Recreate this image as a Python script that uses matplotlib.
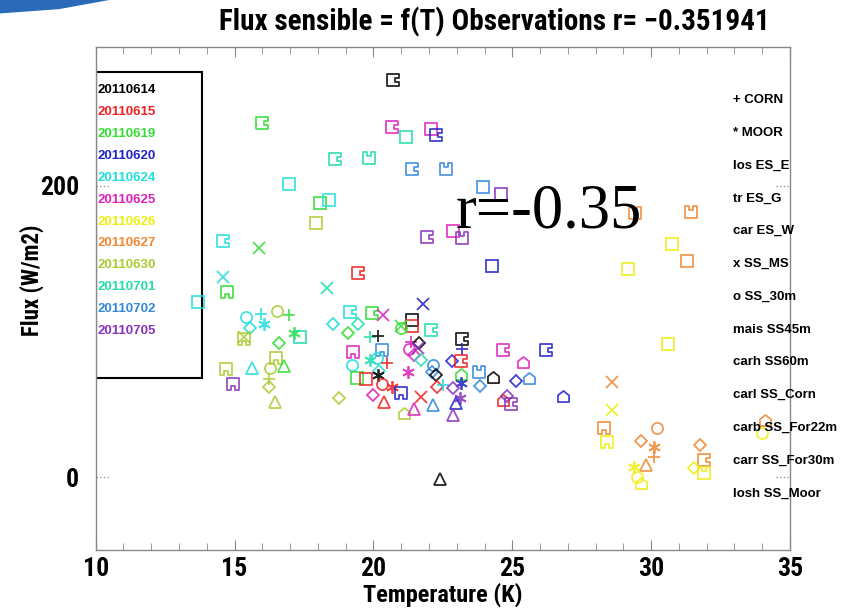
import numpy as np
import matplotlib
matplotlib.use("Agg")
import matplotlib.pyplot as plt
from matplotlib.path import Path
from matplotlib.patches import Rectangle, Polygon
import matplotlib.transforms as mtransforms
from matplotlib import font_manager

# dates (colour legend) and site labels (marker legend)
dates = ["20110614", "20110615", "20110619", "20110620", "20110624", "20110625",
         "20110626", "20110627", "20110630", "20110701", "20110702", "20110705"]
site_labels = ["+ CORN", "* MOOR", "los ES_E", "tr ES_G", "car ES_W", "x SS_MS",
               "o SS_30m", "mais SS45m", "carh SS60m", "carl SS_Corn",
               "carb SS_For22m", "carr SS_For30m", "losh SS_Moor"]

# observations: temperature (K), sensible flux (W/m2), date index, site index
obs_temp = [20.69, 15.98, 20.66, 21.17, 22.07, 22.24, 18.61, 19.83, 21.38, 22.6,
            16.95, 18.07, 18.4, 17.93, 14.58, 15.88, 21.92, 22.88, 23.2, 19.44,
            14.58, 14.73, 18.32, 13.7, 23.95, 24.6, 24.26, 29.4, 31.45, 30.76,
            31.3, 29.15, 30.6,
            15.4, 15.95, 16.53, 16.95, 15.55, 16.05, 15.33, 15.33, 17.15, 17.35,
            16.6, 16.48, 14.68, 15.63, 16.77, 16.27, 14.93, 16.24, 16.24, 16.45,
            18.75, 18.54, 19.08, 19.44, 19.15, 19.94, 20.34, 19.87, 20.15, 19.25,
            20.3, 19.87, 19.22, 20.12, 20.2, 20.15, 20.5, 19.4, 19.73, 20.3,
            20.0, 20.37,
            21.77, 21.38, 21.4, 21.0, 21.0, 22.06, 23.2, 23.2, 21.35, 21.63,
            21.27, 21.6, 21.45, 21.7, 22.83, 23.17, 24.65, 26.23, 25.37, 22.14,
            22.1, 22.25, 23.14, 23.8, 24.3, 25.15, 25.6, 23.83, 23.17, 21.24,
            20.66, 21.0, 21.7, 22.3, 22.5, 22.87, 23.1, 22.97, 24.65, 24.8,
            24.97, 26.82, 21.1, 21.45, 22.14, 22.87, 22.38,
            28.6, 28.6, 28.3, 28.4, 30.2, 29.65, 30.1, 30.1, 29.8, 29.37,
            29.5, 29.65, 31.77, 31.9, 31.55, 31.9, 34.1, 33.98]
obs_flux = [272.6, 243, 240, 233.6, 239, 235, 218.5, 219, 211.6, 211.6,
            201, 188, 190, 174, 162, 157.5, 165, 168.5, 163.7, 139.7,
            137, 127, 129.5, 120, 199, 194.5, 144.5, 181, 182, 159.6,
            148, 142.5, 91,
            109.6, 112, 113.7, 111, 102, 104.8, 95, 96, 99, 96,
            91.8, 82, 74, 75, 76, 74.7, 63.7, 67, 61.6, 51.4,
            54, 105, 99, 104.8, 113, 112.3, 111, 96, 97, 85.6,
            87, 80, 77, 81.5, 73, 70, 78, 67.7, 67, 63.7,
            56, 51.4,
            119, 108, 103.4, 104, 102, 100.7, 94.5, 87.7, 92.5, 91.8,
            87.7, 88.4, 83.6, 80, 79.5, 79.5, 87, 87, 79, 77,
            72, 70, 71, 72, 68.5, 66, 67.8, 62.3, 64.4, 72,
            61.6, 58, 54.8, 61.6, 63, 61, 54, 50.7, 52.7, 55.5,
            50, 55.5, 44, 47, 49.3, 42.5, -1.4,
            65, 46, 34, 24, 33.5, 25, 21, 13.7, 8, 7,
            0, -4, 22, 12, 6, 3, 39, 30]
obs_date = [0, 2, 5, 9, 5, 3, 9, 9, 10, 10,
            4, 2, 4, 8, 4, 2, 11, 5, 11, 1,
            4, 2, 9, 4, 10, 11, 3, 7, 7, 6,
            7, 6, 6,
            4, 4, 8, 2, 4, 4, 8, 8, 2, 9,
            2, 8, 8, 4, 2, 8, 11, 8, 8, 8,
            8, 4, 2, 9, 4, 2, 5, 9, 0, 5,
            10, 9, 4, 4, 4, 0, 1, 2, 1, 1,
            5, 1,
            3, 0, 1, 2, 2, 9, 0, 3, 5, 0,
            5, 11, 5, 9, 3, 1, 5, 3, 5, 10,
            10, 0, 2, 10, 0, 3, 10, 10, 3, 5,
            1, 3, 1, 1, 4, 11, 11, 3, 1, 11,
            11, 3, 8, 5, 10, 11, 0,
            7, 6, 7, 6, 7, 7, 7, 7, 7, 6,
            6, 6, 7, 7, 6, 6, 7, 6]
obs_site = [11, 11, 11, 4, 4, 11, 11, 8, 11, 8,
            4, 4, 4, 4, 11, 5, 11, 4, 8, 11,
            5, 10, 5, 4, 4, 4, 4, 8, 8, 4,
            4, 4, 4,
            6, 0, 6, 0, 2, 1, 10, 5, 1, 4,
            2, 10, 10, 3, 3, 6, 10, 0, 2, 3,
            2, 2, 2, 2, 11, 11, 5, 0, 0, 10,
            10, 1, 6, 6, 2, 1, 0, 4, 4, 6,
            2, 3,
            5, 4, 4, 5, 6, 11, 11, 0, 0, 2,
            6, 5, 2, 2, 2, 11, 11, 11, 7, 6,
            2, 2, 7, 8, 7, 2, 7, 2, 1, 1,
            1, 10, 5, 2, 0, 2, 1, 3, 7, 2,
            11, 7, 7, 3, 3, 3, 3,
            5, 5, 10, 10, 6, 2, 1, 0, 3, 1,
            6, 7, 2, 11, 2, 8, 7, 6]

date_colors = ["#000000", "#ee2222", "#33dd33", "#2222cc", "#22dddd", "#dd22bb",
               "#eeee11", "#ee8833", "#aacc33", "#22ddaa", "#3388dd", "#8833bb"]


def notched_square(angle):
    verts = [(-1, -1), (1, -1), (1, -0.35), (0.3, -0.35), (0.3, 0.35), (1, 0.35),
             (1, 1), (-1, 1), (-1, -1)]
    c, s = np.cos(np.radians(angle)), np.sin(np.radians(angle))
    verts = [(x * c - y * s, x * s + y * c) for x, y in verts]
    return Path(verts, [Path.MOVETO] + [Path.LINETO] * 7 + [Path.CLOSEPOLY])


house = Path([(-1, -1), (1, -1), (1, 0.2), (0, 1), (-1, 0.2), (-1, -1)],
             [Path.MOVETO] + [Path.LINETO] * 4 + [Path.CLOSEPOLY])
diamond_notch = Path([(0, -1), (1, 0), (0, 1), (-1, 0), (0, -1)],
                     [Path.MOVETO] + [Path.LINETO] * 3 + [Path.CLOSEPOLY])

site_markers = ["+", (6, 2, 0), "D", "^", "s", "x", "o", house,
                notched_square(90), notched_square(180), notched_square(270),
                notched_square(0), diamond_notch]
site_sizes = [9, 9, 6, 8, 8, 8, 8, 8, 9, 9, 9, 9, 7]

# pick a condensed face if one is installed, else plain Liberation Sans
installed = {f.name for f in font_manager.fontManager.ttflist}
narrow = [n for n in ["Roboto Condensed", "Liberation Sans Narrow",
                      "Open Sans Condensed"] if n in installed]
condensed = len(narrow) > 0
narrow = narrow + ["Liberation Sans", "DejaVu Sans"]
k = 1.0 if condensed else 0.8

fig = plt.figure(figsize=(8.41, 6.11), dpi=100)
ax = fig.add_axes([0.1138, 0.0998, 0.8256, 0.8232])

for t, f, d, s in zip(obs_temp, obs_flux, obs_date, obs_site):
    ax.plot(t, f, linestyle="none", marker=site_markers[s], markersize=site_sizes[s],
            markerfacecolor="none", markeredgecolor=date_colors[d],
            markeredgewidth=1.3, alpha=0.85)

ax.set_xlim(10, 35)
ax.set_ylim(-50, 295)
ax.set_xticks(range(10, 36, 5))
ax.set_xticks(range(10, 36), minor=True)
ax.set_yticks([0, 200])
ax.tick_params(axis="x", which="both", direction="in", top=True, colors="#888888",
               labelcolor="black", pad=5)
ax.tick_params(axis="x", which="major", length=7)
ax.tick_params(axis="x", which="minor", length=5)
ax.tick_params(axis="y", length=0, pad=12, labelcolor="black")
for lab in ax.get_xticklabels() + ax.get_yticklabels():
    lab.set_family(narrow)
    lab.set_fontweight("bold")
    lab.set_fontsize(18.5 * k)
for sp in ax.spines.values():
    sp.set_color("#888888")
    sp.set_linewidth(1.0)

# dotted y ticks on both sides
blend = mtransforms.blended_transform_factory(ax.transAxes, ax.transData)
for yv in [0, 200]:
    ax.plot([0, 0.02], [yv, yv], transform=blend, color="#999999", lw=1, ls=":")
    ax.plot([0.98, 1], [yv, yv], transform=blend, color="#999999", lw=1, ls=":")

ax.set_xlabel("Temperature (K)", family=narrow, fontweight="bold", fontsize=17.5 * k,
              labelpad=1)
ax.set_ylabel("Flux (W/m2)", family=narrow, fontweight="bold", fontsize=16.5 * k)
ax.yaxis.set_label_coords(-0.074, 0.537)
ax.set_title("Flux sensible = f(T) Observations r= \u22120.351941", family=narrow,
             fontweight="bold", fontsize=21 * k, pad=12, x=0.574)

# date legend box
ax.add_patch(Rectangle((0, 0.342), 0.153, 0.608, transform=ax.transAxes,
                       fill=False, edgecolor="black", lw=1.5))
for i, (lab, col) in enumerate(zip(dates, date_colors)):
    ax.text(0.003, 0.914 - i * 0.0435, lab, transform=ax.transAxes, color=col,
            fontsize=9.5, fontweight="bold", family="Liberation Sans",
            va="center", ha="left")

# site legend (text on the right)
for i, lab in enumerate(site_labels):
    fig.text(733 / 841, 1 - (100 + i * 32.8) / 611, lab, fontsize=9.5,
             fontweight="bold", family="Liberation Sans", va="center", ha="left")

ax.text(0.518, 0.642, "r=-0.35", transform=ax.transAxes, fontsize=45,
        family="Liberation Serif", va="baseline", ha="left")

# bit of the slide logo in the corner
fig.patches.append(Polygon([(0, 1), (0.13, 1), (0.07, 0.985), (0, 0.978)],
                           closed=True, transform=fig.transFigure,
                           facecolor="#2a6ab8", edgecolor="none"))

fig.savefig("out.png", dpi=100)
